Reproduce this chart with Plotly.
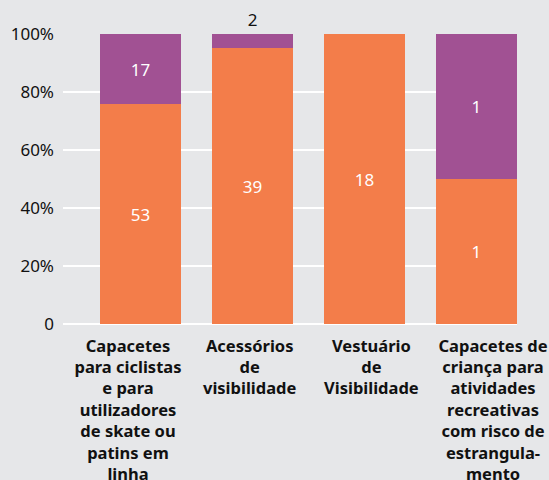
import plotly.graph_objects as go

categories = [
    "Capacetes<br>para ciclistas<br>e para<br>utilizadores<br>de skate ou<br>patins em<br>linha",
    "Acessórios<br>de<br>visibilidade",
    "Vestuário<br>de<br>Visibilidade",
    "Capacetes de<br>criança para<br>atividades<br>recreativas<br>com risco de<br>estrangula-<br>mento",
]
positions = [0, 1, 2, 3]
orange_vals = [53, 39, 18, 1]
purple_vals = [17, 2, 0, 1]
y_tickvals = [0, 20, 40, 60, 80, 100]
y_ticktext = ["0", "20%", "40%", "60%", "80%", "100%"]

ORANGE = "#F37D4A"
PURPLE = "#A15193"
BG = "#E6E7E9"
FONT = "Noto Sans"

fig = go.Figure()
fig.add_trace(go.Bar(
    x=positions, y=orange_vals, marker=dict(color=ORANGE, line=dict(width=0)), width=0.723,
    text=[str(v) if v else "" for v in orange_vals],
    textposition="inside", insidetextanchor="middle",
    textfont=dict(color="white", size=17, family=FONT),
    showlegend=False, hoverinfo="skip",
))
fig.add_trace(go.Bar(
    x=positions, y=purple_vals, marker=dict(color=PURPLE, line=dict(width=0)), width=0.723,
    text=[str(v) if v else "" for v in purple_vals],
    textposition=["inside", "outside", "none", "inside"], insidetextanchor="middle",
    insidetextfont=dict(color="white", size=17, family=FONT),
    outsidetextfont=dict(color="#111111", size=17, family=FONT),
    cliponaxis=False,
    showlegend=False, hoverinfo="skip",
))
# invisible helper trace so the label axis is drawn
fig.add_trace(go.Scatter(x=[positions[0]], y=[0], xaxis="x2", mode="markers",
                         marker=dict(opacity=0), showlegend=False, hoverinfo="skip"))

fig.update_layout(
    width=549, height=480,
    barmode="stack", barnorm="percent",
    paper_bgcolor=BG, plot_bgcolor=BG,
    margin=dict(l=63, r=32, t=34, b=156, autoexpand=False),
    font=dict(family=FONT, color="#111111"),
    uniformtext=dict(minsize=8, mode="show"),
    xaxis=dict(range=[-0.692, 3.362], showticklabels=False, showgrid=False,
               zeroline=False, ticks="", automargin=False),
    xaxis2=dict(overlaying="x", anchor="y", side="bottom", range=[-0.534, 3.197],
                tickvals=positions, ticktext=categories, showgrid=False, zeroline=False,
                ticks="", tickfont=dict(size=16.5, family=FONT, color="#111111", weight="bold"),
                ticklabelstandoff=10, automargin=False),
    yaxis=dict(range=[0, 100], tickvals=y_tickvals, ticktext=y_ticktext,
               showgrid=True, gridcolor="white", gridwidth=2, zeroline=True,
               zerolinecolor="white", zerolinewidth=2, automargin=False,
               tickfont=dict(size=17, family=FONT, color="#111111"), ticks="",
               ticklabelstandoff=8),
)

fig.write_html(
    "out.html",
    config={"displayModeBar": False},
    post_script="document.body.style.margin='0';document.body.style.padding='0';",
)
